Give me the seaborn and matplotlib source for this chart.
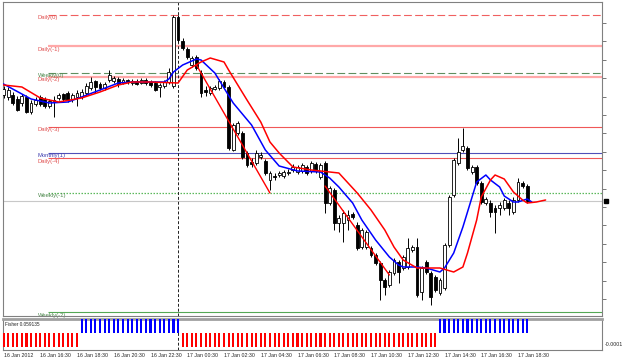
import numpy as np
import pandas as pd
import matplotlib
matplotlib.use("Agg")
import matplotlib.pyplot as plt
import seaborn as sns

# ---------------- data (price in chart points) ----------------
open_ = [225, 223, 225, 221, 217, 223, 208, 216, 223, 221, 214, 219, 222, 226, 227, 221, 223, 223, 227, 232,
         239, 236, 232, 240, 239, 241, 237, 240, 237, 239, 237, 240, 238, 237, 233, 234, 238, 234, 303, 279,
         271, 255, 263, 247, 230, 227, 231, 232, 238, 233, 170, 187, 187, 167, 158, 157, 163, 159, 140, 144,
         145, 144, 147, 150, 148, 149, 153, 149, 156, 143, 157, 117, 130, 97, 97, 100, 106, 95, 73, 73,
         72, 65, 57, 40, 35, 47, 58, 52, 53, 70, 73, 28, 58, 47, 43, 27, 32, 75, 125, 157,
         170, 172, 148, 153, 137, 117, 117, 112, 112, 112, 117, 108, 120, 137, 134]
high = [234, 233, 228, 224, 226, 225, 220, 223, 225, 223, 221, 224, 227, 227, 229, 227, 230, 231, 237, 243,
        240, 238, 238, 250, 244, 243, 242, 241, 241, 241, 242, 242, 240, 239, 237, 240, 252, 305, 305, 282,
        273, 264, 265, 250, 234, 234, 235, 241, 240, 235, 197, 199, 189, 169, 162, 170, 168, 161, 149, 147,
        149, 150, 151, 156, 155, 157, 155, 159, 158, 157, 159, 134, 132, 105, 110, 110, 108, 98, 92, 90,
        74, 67, 59, 42, 50, 62, 60, 65, 82, 75, 82, 54, 60, 49, 45, 42, 77, 125, 162, 182,
        192, 174, 155, 155, 139, 123, 120, 115, 118, 122, 120, 123, 142, 139, 136]
low = [222, 220, 215, 209, 214, 207, 206, 214, 214, 212, 212, 203, 220, 219, 218, 218, 214, 221, 225, 230,
       227, 230, 230, 238, 237, 233, 236, 236, 235, 235, 236, 235, 233, 229, 223, 232, 236, 232, 278, 270,
       261, 253, 250, 223, 224, 225, 230, 230, 231, 170, 169, 185, 161, 153, 153, 155, 161, 145, 130, 140,
       143, 142, 145, 148, 146, 147, 145, 147, 147, 141, 107, 115, 90, 88, 78, 90, 101, 70, 71, 71,
       63, 55, 20, 25, 33, 45, 37, 50, 51, 68, 23, 20, 46, 15, 28, 25, 30, 73, 123, 155,
       168, 150, 146, 135, 116, 115, 103, 87, 105, 110, 105, 106, 118, 132, 117]
close = [231, 230, 217, 210, 224, 208, 217, 220, 216, 214, 219, 220, 225, 221, 220, 225, 227, 228, 234, 238,
         233, 232, 236, 245, 242, 236, 240, 238, 239, 236, 240, 237, 235, 230, 235, 238, 248, 303, 280, 272,
         263, 262, 252, 227, 228, 232, 233, 239, 233, 172, 195, 197, 163, 155, 156, 167, 165, 147, 147, 143,
         147, 148, 148, 153, 153, 155, 147, 157, 149, 155, 117, 132, 97, 102, 107, 105, 103, 72, 90, 88,
         65, 57, 40, 33, 48, 60, 48, 63, 72, 73, 25, 52, 48, 23, 30, 40, 75, 123, 160, 168,
         174, 152, 153, 137, 118, 121, 108, 108, 115, 120, 112, 120, 138, 134, 119]

# fast MA (blue) and slow MA (red), (bar index, value)
blue_idx = [0, 4, 6, 10, 14, 17, 21, 25, 28, 35, 36, 37, 39, 42, 43, 46, 50, 54, 57, 60, 64, 69, 71, 73,
            76, 78, 81, 84, 86, 87, 90, 92, 95, 96, 98, 100, 102, 103, 105, 106, 108, 109, 111, 112, 114, 115]
blue_val = [236, 226, 221, 217, 218, 223, 230, 237, 238, 238, 241, 248, 255, 261, 260, 247, 217, 195, 170,
            154, 149, 148, 142, 133, 117, 100, 80, 63, 55, 53, 53, 52, 48, 52, 67, 93, 123, 138, 145, 140,
            133, 124, 118, 118, 121, 118]
red_idx = [0, 4, 8, 12, 17, 21, 25, 28, 32, 38, 40, 43, 45, 48, 49, 53, 56, 58, 60, 63, 67, 71, 73, 75,
           77, 80, 83, 85, 87, 90, 92, 95, 98, 100, 101, 103, 104, 106, 107, 109, 111, 113, 114, 116, 118]
red_val = [235, 233, 222, 218, 222, 228, 235, 238, 238, 237, 250, 258, 262, 258, 250, 220, 198, 178, 167,
           153, 150, 148, 147, 137, 127, 110, 90, 73, 60, 52, 52, 52, 48, 53, 67, 100, 123, 140, 145, 141,
           128, 120, 117, 118, 120]

# lower trend segments (start idx, start value, end idx, end value)
trend_segments = [(42, 255, 58, 127), (70, 134, 84, 45)]

# pivot levels
level_names = ["Daily(0)", "Daily(-1)", "Weekly(0)", "Daily(-2)", "Daily(-3)", "Monthly(1)",
               "Daily(-4)", "Weekly(-1)", "Weekly(-2)"]
level_values = [305, 274, 247, 243, 193, 167, 162, 127, 8]
current_price = 119

# Fisher histogram direction per bar
fisher = [-1, -1, -1, -1, -1, -1, -1, -1, -1, -1, -1, -1, -1, -1, -1, -1, -1,
          1, 1, 1, 1, 1, 1, 1, 1, 1, 1, 1, 1, 1, 1, 1, 1, 1, 1, 1, 1, 1, 1,
          -1, -1, -1, -1, -1, -1, -1, -1, -1, -1, -1, -1, -1, -1, -1, -1, -1, -1, -1, -1,
          -1, -1, -1, -1, -1, -1, -1, -1, -1, -1, -1, -1, -1, -1, -1, -1, -1, -1, -1, -1,
          -1, -1, -1, -1, -1, -1, -1, -1, -1, -1, -1, -1, -1, -1, -1, -1,
          1, 1, 1, 1, 1, 1, 1, 1, 1, 1, 1, 1, 1, 1, 1, 1, 1, 1, 1, 1]
fisher_label = "Fisher 0.059135"

date_tick_idx = [0, 8, 16, 24, 32, 40, 48, 56, 64, 72, 80, 88, 96, 104, 112]
date_labels = ["16 Jan 2012", "16 Jan 16:30", "16 Jan 18:30", "16 Jan 20:30", "16 Jan 22:30",
               "17 Jan 00:30", "17 Jan 02:30", "17 Jan 04:30", "17 Jan 06:30", "17 Jan 08:30",
               "17 Jan 10:30", "17 Jan 12:30", "17 Jan 14:30", "17 Jan 16:30", "17 Jan 18:30"]
day_sep_idx = 38

# ---------------- drawing ----------------
sns.set_style("white")
plt.rcParams['font.family'] = ['Liberation Sans', 'DejaVu Sans']

W, H = 625, 360
fig = plt.figure(figsize=(W / 100, H / 100), dpi=100)
fig.patch.set_facecolor("white")
ax = fig.add_axes([3 / W, 44 / H, 599 / W, 314 / H])
axf = fig.add_axes([3 / W, 10 / H, 599 / W, 31.5 / H])

XL, XR = -0.11, 130.28
for a in (ax, axf):
    a.set_xlim(XL, XR)
    a.set_facecolor("white")
    for s in a.spines.values():
        s.set_color("#808080")
        s.set_linewidth(0.8)

ax.set_ylim(4, 318)

# levels
level_style = {
    "Daily(0)": dict(color="#F06060", lw=0.8, ls=(0, (7, 3))),
    "Daily(-1)": dict(color="#FFA8A8", lw=1.6, ls="-"),
    "Weekly(0)": dict(color="#5E8F5E", lw=0.8, ls=(0, (7, 3))),
    "Daily(-2)": dict(color="#FFA8A8", lw=1.6, ls="-"),
    "Daily(-3)": dict(color="#F05858", lw=0.8, ls="-"),
    "Monthly(1)": dict(color="#5050B8", lw=0.8, ls="-"),
    "Daily(-4)": dict(color="#F05858", lw=0.8, ls="-"),
    "Weekly(-1)": dict(color="#5CB85C", lw=0.9, ls=(0, (1.2, 1.2))),
    "Weekly(-2)": dict(color="#55A855", lw=0.8, ls="-"),
}
text_color = {"Daily": "#E05050", "Weekly": "#4F8A4F", "Monthly": "#4040B0"}
for name, val in zip(level_names, level_values):
    st = level_style[name]
    ax.hlines(val, 9.7, XR, colors=st["color"], linewidth=st["lw"], linestyles=[st["ls"]], zorder=1)
    ax.text(7.4, val - 0.5, name, fontsize=4.2, va="top", ha="left",
            color=text_color[name.split("(")[0]], zorder=2)
ax.axhline(current_price, color="#C8C8C8", lw=0.8, zorder=1)

# day separator
for a in (ax, axf):
    a.axvline(day_sep_idx, color="#202020", lw=0.7, ls=(0, (3, 2)), zorder=2)

# candles
o = np.array(open_, float); c = np.array(close, float)
h = np.array(high, float); l = np.array(low, float)
idx = np.arange(len(c))
bull = c >= o
ax.vlines(idx, l, h, color="black", lw=0.7, zorder=3)
bb = np.minimum(o, c)
bh = np.maximum(np.abs(c - o), 0.9)
ax.bar(idx[bull], bh[bull], bottom=bb[bull], width=0.62, facecolor="white",
       edgecolor="black", linewidth=0.6, zorder=4)
ax.bar(idx[~bull], bh[~bull], bottom=bb[~bull], width=0.62, facecolor="black",
       edgecolor="black", linewidth=0.6, zorder=4)

# moving averages
ma = pd.concat([
    pd.DataFrame({"bar": blue_idx, "value": blue_val, "line": "fast"}),
    pd.DataFrame({"bar": red_idx, "value": red_val, "line": "slow"}),
])
sns.lineplot(data=ma, x="bar", y="value", hue="line", palette={"fast": "#0000FF", "slow": "#FF0000"},
             linewidth=1.1, legend=False, ax=ax, zorder=5, estimator=None, sort=True)
for (x0, y0, x1, y1) in trend_segments:
    sns.lineplot(x=[x0, x1], y=[y0, y1], color="#FF0000", linewidth=1.0, ax=ax, zorder=5,
                 estimator=None)

# current price marker on the right edge
ax.plot([XR + 0.9], [current_price], marker="s", markersize=2.2, color="black", clip_on=False, zorder=6)

ax.set_xlabel(""); ax.set_ylabel("")
ax.set_xticks([])
ax.yaxis.tick_right()
ax.set_yticks(np.arange(297, 4, -18.4))
ax.set_yticklabels([])
ax.tick_params(axis="y", direction="out", length=3, width=0.6, color="#606060", right=True, left=False)

# fisher panel
fvals = np.array(fisher, float)
fcols = ["#0000FF" if v > 0 else "#FF0000" for v in fvals]
axf.bar(np.arange(len(fvals)), fvals, width=0.45, color=fcols, linewidth=0, zorder=3)
axf.set_ylim(-1.18, 1.07)
axf.spines["top"].set_color("#A0A0A0")
axf.spines["top"].set_linewidth(2.0)
axf.text(0.4, 0.85, fisher_label, fontsize=3.4, va="top", ha="left", color="#202020",
         transform=axf.transData)
axf.yaxis.tick_right()
axf.set_yticks([-0.75])
axf.set_yticklabels(["-0.0001"], fontsize=3.8)
axf.tick_params(axis="y", length=0, pad=2, right=True, left=False)
axf.set_xticks(date_tick_idx)
axf.set_xticklabels(date_labels, fontsize=3.8, ha="left")
axf.tick_params(axis="x", direction="out", length=1.5, width=0.5, pad=0.8, color="#606060")
axf.set_xlabel(""); axf.set_ylabel("")

fig.savefig("out.png", dpi=100, facecolor="white")
